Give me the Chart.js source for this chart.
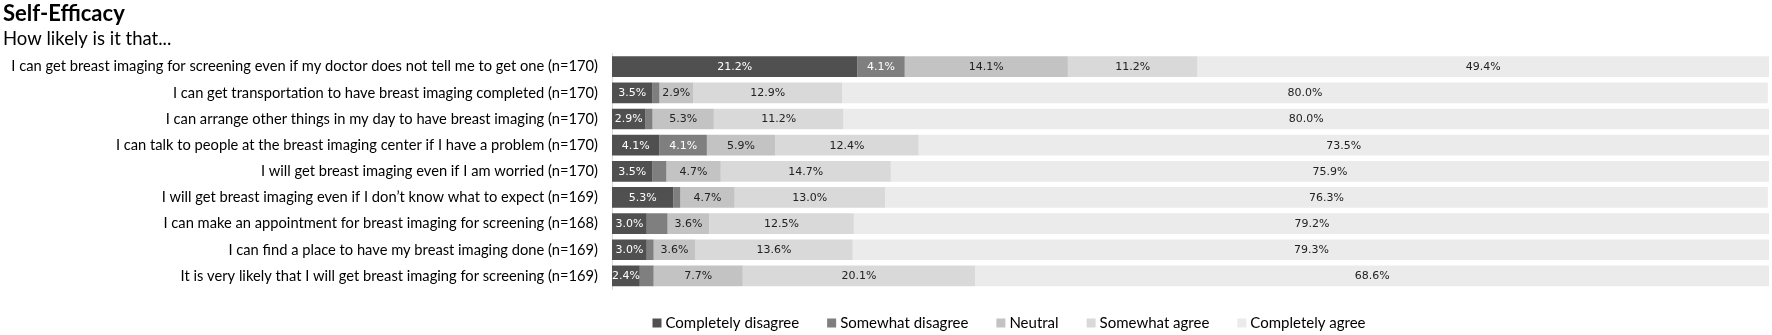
<!DOCTYPE html>
<html>
<head>
<meta charset="utf-8">
<script src="https://cdn.jsdelivr.net/npm/chart.js@4/dist/chart.umd.min.js"></script>
<style>
  html, body { margin: 0; padding: 0; background: #ffffff; }
  #wrap { width: 1772px; height: 335px; }
</style>
</head>
<body>
<div id="wrap"><canvas id="c" width="1772" height="335"></canvas></div>
<script>
const categories = [
  "I can get breast imaging for screening even if my doctor does not tell me to get one (n=170)",
  "I can get transportation to have breast imaging completed (n=170)",
  "I can arrange other things in my day to have breast imaging (n=170)",
  "I can talk to people at the breast imaging center if I have a problem (n=170)",
  "I will get breast imaging even if I am worried (n=170)",
  "I will get breast imaging even if I don\u2019t know what to expect (n=169)",
  "I can make an appointment for breast imaging for screening (n=168)",
  "I can find a place to have my breast imaging done (n=169)",
  "It is very likely that I will get breast imaging for screening (n=169)"
];
const seriesNames = ["Completely disagree", "Somewhat disagree", "Neutral", "Somewhat agree", "Completely agree"];
const completelyDisagree = [21.2, 3.5, 2.9, 4.1, 3.5, 5.3, 3.0, 3.0, 2.4];
const somewhatDisagree   = [4.1, 0.6, 0.6, 4.1, 1.2, 0.6, 1.8, 0.6, 1.2];
const neutral            = [14.1, 2.9, 5.3, 5.9, 4.7, 4.7, 3.6, 3.6, 7.7];
const somewhatAgree      = [11.2, 12.9, 11.2, 12.4, 14.7, 13.0, 12.5, 13.6, 20.1];
const completelyAgree    = [49.4, 80.0, 80.0, 73.5, 75.9, 76.3, 79.2, 79.3, 68.6];

const colors = ["#505050", "#7f7f7f", "#c3c3c3", "#d9d9d9", "#ebebeb"];
const labelColors = ["#ffffff", "#ffffff", "#222222", "#222222", "#222222"];
const seriesValues = [completelyDisagree, somewhatDisagree, neutral, somewhatAgree, completelyAgree];

const datasets = seriesNames.map((name, i) => ({
  label: name,
  data: seriesValues[i],
  backgroundColor: colors[i],
  borderWidth: 0,
  categoryPercentage: 1.0,
  barPercentage: 0.79
}));

const valueLabels = {
  id: 'valueLabels',
  afterDatasetsDraw(chart) {
    const ctx = chart.ctx;
    ctx.save();
    ctx.font = '11px "DejaVu Sans"';
    ctx.textAlign = 'center';
    ctx.textBaseline = 'middle';
    chart.data.datasets.forEach((ds, i) => {
      const meta = chart.getDatasetMeta(i);
      meta.data.forEach((bar, j) => {
        const v = ds.data[j];
        if (v < 2) return;
        const p = bar.getProps(['x', 'base', 'y'], true);
        ctx.fillStyle = labelColors[i];
        ctx.fillText(v.toFixed(1) + '%', (p.x + p.base) / 2, p.y + 0.5);
      });
    });
    ctx.restore();
  }
};

const bottomLegend = {
  id: 'bottomLegend',
  afterDraw(chart) {
    const ctx = chart.ctx;
    ctx.save();
    ctx.font = '15px Lato';
    ctx.textBaseline = 'middle';
    ctx.textAlign = 'left';
    const box = 9, gapBox = 4, gapItem = 28;
    const items = chart.data.datasets.map(ds => ({ text: ds.label, color: ds.backgroundColor, w: ctx.measureText(ds.label).width }));
    const total = items.reduce((s, it) => s + box + gapBox + it.w, 0) + gapItem * (items.length - 1);
    const centerX = 1009, y = 323;
    let x = centerX - total / 2;
    items.forEach(it => {
      ctx.fillStyle = it.color;
      ctx.fillRect(x, y - box / 2, box, box);
      ctx.fillStyle = '#000000';
      ctx.fillText(it.text, x + box + gapBox, y);
      x += box + gapBox + it.w + gapItem;
    });
    ctx.restore();
  }
};

new Chart(document.getElementById('c'), {
  type: 'bar',
  data: { labels: categories, datasets: datasets },
  options: {
    indexAxis: 'y',
    responsive: false,
    animation: false,
    layout: { padding: { left: 3, right: 3, top: 0, bottom: 46 } },
    scales: {
      x: { stacked: true, min: 0, max: 100, display: false },
      y: {
        stacked: true,
        grid: { display: false, drawTicks: false },
        border: { display: true, color: '#d9d9d9', width: 1 },
        ticks: { color: '#000000', font: { family: 'Lato', size: 14.7 }, padding: 14, autoSkip: false },
        afterFit(scale) { scale.width = 609; }
      }
    },
    plugins: {
      legend: { display: false },
      tooltip: { enabled: false },
      title: {
        display: true, text: 'Self-Efficacy', align: 'start', color: '#000000',
        font: { family: 'Lato', size: 22, weight: 'bold' }, padding: { top: 1, bottom: 0 }
      },
      subtitle: {
        display: true, text: 'How likely is it that...', align: 'start', color: '#000000',
        font: { family: 'Lato', size: 18.5, weight: 'normal' }, padding: { top: 1, bottom: 3 }
      }
    }
  },
  plugins: [valueLabels, bottomLegend]
});
</script>
</body>
</html>
